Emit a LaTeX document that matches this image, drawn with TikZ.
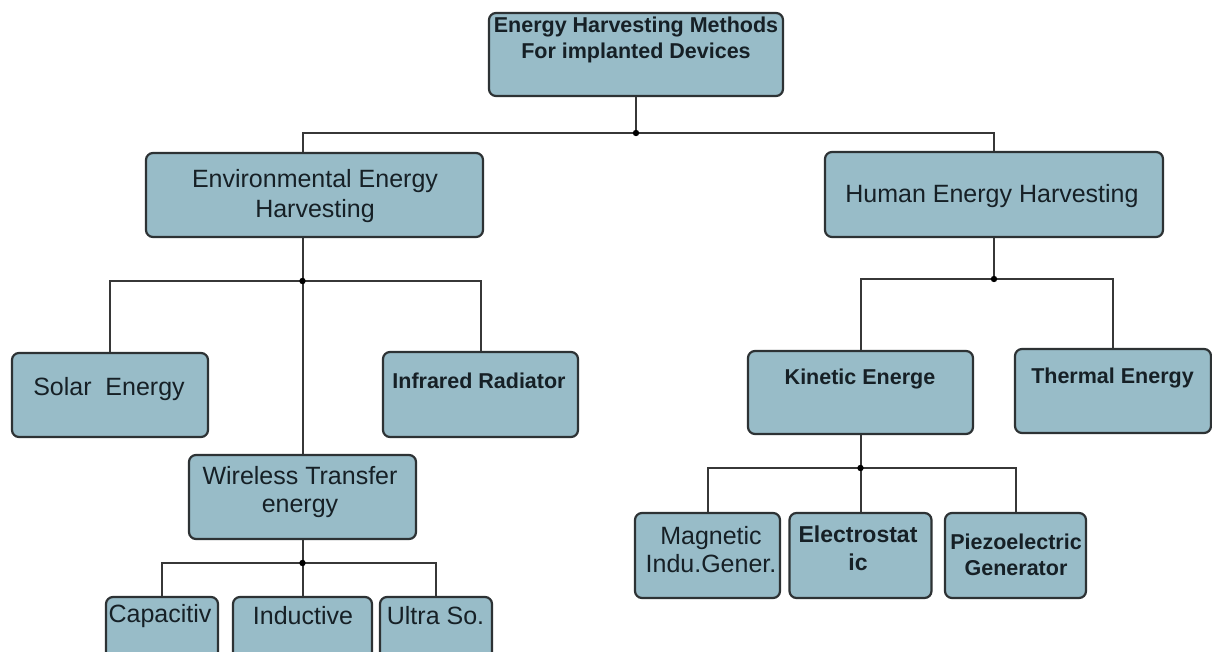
\documentclass[tikz,border=0pt]{standalone}
\usepackage{fontspec}
\setmainfont{Liberation Sans}
\usepackage{tikz}
\usetikzlibrary{calc}

\definecolor{boxfill}{RGB}{152,188,200}
\definecolor{boxline}{RGB}{45,50,52}
\definecolor{linkcol}{RGB}{55,55,55}
\definecolor{txtcol}{RGB}{22,32,38}

\begin{document}
\begin{tikzpicture}[x=1pt,y=-1pt,
  box/.style={rectangle,rounded corners=7pt,draw=boxline,line width=2.2pt,fill=boxfill,inner sep=0pt},
  txt/.style={text=txtcol,align=center,inner sep=0pt,font=\fontsize{25}{28}\selectfont},
  btxt/.style={txt,font=\fontsize{21.5}{26}\selectfont\bfseries},
  link/.style={draw=linkcol,line width=2pt}]
        \clip (0,0) rectangle (1212,652);
        \fill[white] (0,0) rectangle (1212,652);
        % Boxes
        \node(top) at (636,54.5)[box,minimum width=294pt,minimum height=83pt] {};
        \node(env) at (314.5,195)[box,minimum width=337pt,minimum height=84pt] {};
        \node(human) at (994,194.5)[box,minimum width=338pt,minimum height=85pt] {};
        \node(solar) at (110,395)[box,minimum width=196pt,minimum height=84pt] {};
        \node(infra) at (480.5,394.5)[box,minimum width=195pt,minimum height=85pt] {};
        \node(wireless) at (302.5,497)[box,minimum width=227pt,minimum height=84pt] {};
        \node(capac) at (162,634)[box,minimum width=112pt,minimum height=74pt] {};
        \node(induct) at (302.5,634)[box,minimum width=139pt,minimum height=74pt] {};
        \node(ultra) at (436,634)[box,minimum width=112pt,minimum height=74pt] {};
        \node(kinetic) at (860.5,392.5)[box,minimum width=225pt,minimum height=83pt] {};
        \node(thermal) at (1113,391)[box,minimum width=196pt,minimum height=84pt] {};
        \node(magnetic) at (707.5,555.5)[box,minimum width=145pt,minimum height=85pt] {};
        \node(electro) at (860.5,555.5)[box,minimum width=142pt,minimum height=85pt] {};
        \node(piezo) at (1015.5,555.5)[box,minimum width=141pt,minimum height=85pt] {};
        % Texts
        \node(topT) at (636,40)[btxt] {Energy Harvesting Methods\\For implanted Devices};
        \node(envT) at (315,196)[txt,font=\fontsize{25}{30}\selectfont] {Environmental Energy\\Harvesting};
        \node(humanT) at (992,196)[txt] {Human Energy Harvesting};
        \node(solarT) at (109,389)[txt] {Solar\ \ Energy};
        \node(infraT) at (479,381)[btxt] {Infrared Radiator};
        \node(wirelessT) at (300,492)[txt] {Wireless Transfer\\energy};
        \node(capacT) at (160,616)[txt] {Capacitiv};
        \node(inductT) at (303,616)[txt] {Inductive};
        \node(ultraT) at (435.5,616)[txt] {Ultra So.};
        \node(kineticT) at (860,379)[btxt] {Kinetic Energe};
        \node(thermalT) at (1112.5,378)[btxt] {Thermal Energy};
        \node(magneticT) at (711,550)[txt] {Magnetic\\Indu.Gener.};
        \node(electroT) at (858,548)[btxt,font=\fontsize{23}{28}\selectfont\bfseries] {Electrostat\\ic};
        \node(piezoT) at (1016,555)[btxt] {Piezoelectric\\Generator};
        % Junctions
        \coordinate(j0) at (636,133);
        \coordinate(j1) at (302.5,281);
        \coordinate(j2) at (994,279);
        \coordinate(j3) at (302.5,563);
        \coordinate(j4) at (860.5,468);
        % Links
        \draw[link] (top.south) -- (j0);
        \draw[link] (j0) -| ([xshift=-12pt]env.north);
        \draw[link] (j0) -| (human.north);
        \draw[link] ([xshift=-12pt]env.south) -- (wireless.north);
        \draw[link] (j1) -| (solar.north);
        \draw[link] (j1) -| (infra.north);
        \draw[link] (human.south) -- (j2);
        \draw[link] (j2) -| (kinetic.north);
        \draw[link] (j2) -| (thermal.north);
        \draw[link] (wireless.south) -- (induct.north);
        \draw[link] (j3) -| (capac.north);
        \draw[link] (j3) -| (ultra.north);
        \draw[link] (kinetic.south) -- (j4);
        \draw[link] (j4) -| (magnetic.north);
        \draw[link] (j4) -- (electro.north);
        \draw[link] (j4) -| (piezo.north);
        \foreach \j in {j0,j1,j2,j3,j4}
          \fill[black] (\j) circle (3.2pt);
\end{tikzpicture}
\end{document}
